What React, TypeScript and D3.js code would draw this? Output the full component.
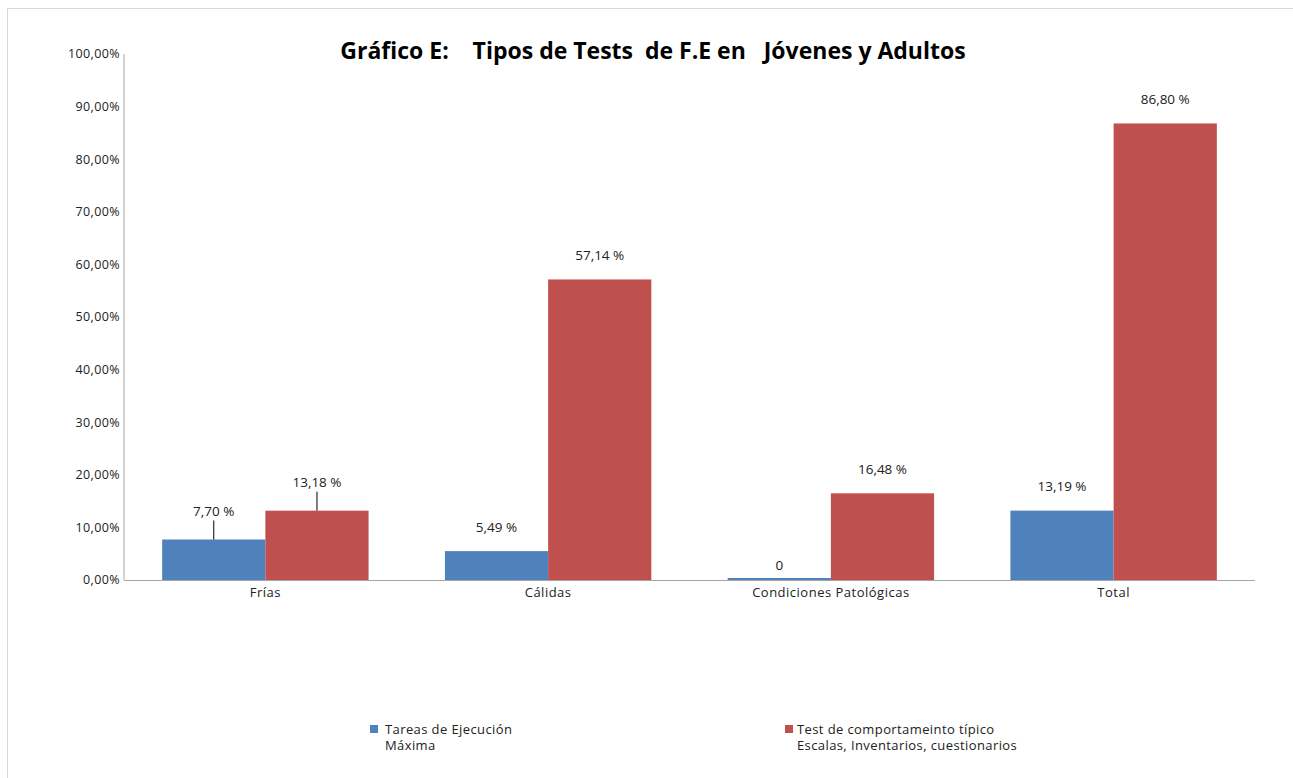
import React from "react";
import * as d3 from "d3";

const categories = ["Frías", "Cálidas", "Condiciones Patológicas", "Total"];
const maxima = [7.7, 5.49, 0, 13.19];
const tipico = [13.18, 57.14, 16.48, 86.8];
const maximaLabels = ["7,70 %", "5,49 %", "0", "13,19 %"];
const tipicoLabels = ["13,18 %", "57,14 %", "16,48 %", "86,80 %"];
const yTicks = [0, 10, 20, 30, 40, 50, 60, 70, 80, 90, 100];
// only the first group has leader lines in the original
const withLeader = [true, false, false, false];

const BLUE = "#4F81BD";
const RED = "#C0504D";
const FONT = "'Open Sans', 'Liberation Sans', sans-serif";

export default function App() {
  const width = 1293;
  const height = 778;
  const margin = { top: 54, right: 38, bottom: 198, left: 124 };

  const x = d3
    .scaleBand()
    .domain(categories)
    .range([margin.left, width - margin.right]);
  const y = d3
    .scaleLinear()
    .domain([0, 100])
    .range([height - margin.bottom, margin.top]);

  const barW = x.bandwidth() * 0.365;
  const fmt = (v: number) => d3.format(".2f")(v).replace(".", ",") + "%";

  const series = [
    { values: maxima, labels: maximaLabels, color: BLUE, offset: -1 },
    { values: tipico, labels: tipicoLabels, color: RED, offset: 0 },
  ];

  return (
    <svg
      width={width}
      height={height}
      style={{ position: "absolute", left: 0, top: 0, background: "#fff" }}
      fontFamily={FONT}
    >
      <rect x={7.5} y={8.5} width={width} height={height} fill="#fff" stroke="#d9d9d9" />

      <text
        x={653}
        y={59}
        textAnchor="middle"
        fontSize={23}
        fontWeight="bold"
        fill="#000"
        style={{ whiteSpace: "pre" }}
      >
        {"Gráfico E:    Tipos de Tests  de F.E en   Jóvenes y Adultos"}
      </text>

      {/* y axis */}
      <line x1={margin.left} x2={margin.left} y1={y(100)} y2={y(0)} stroke="#a6a6a6" />
      {yTicks.map((t) => (
        <text key={t} x={margin.left - 4} y={y(t)} dy="0.35em" textAnchor="end" fontSize={12.5} letterSpacing={0.4} fill="#222">
          {fmt(t)}
        </text>
      ))}

      {/* bars */}
      {series.map((s, si) =>
        categories.map((c, i) => {
          const cx = x(c)! + x.bandwidth() / 2;
          const bx = cx + s.offset * barW;
          const top = y(s.values[i]);
          const lead = withLeader[i];
          const labelY = top - (lead ? 28 : s.values[i] === 0 ? 15 : 24);
          return (
            <g key={si + "-" + c}>
              <rect
                x={bx}
                y={Math.min(top, y(0) - 2)}
                width={barW}
                height={Math.max(y(0) - top, 2)}
                fill={s.color}
              />
              {lead && (
                <line x1={bx + barW / 2} x2={bx + barW / 2} y1={top} y2={labelY + 9} stroke="#000" />
              )}
              <text x={bx + barW / 2} y={labelY} dy="0.35em" textAnchor="middle" fontSize={13.5} fill="#222">
                {s.labels[i]}
              </text>
            </g>
          );
        })
      )}

      {/* x axis */}
      <line x1={margin.left} x2={width - margin.right} y1={y(0) + 0.5} y2={y(0) + 0.5} stroke="#a6a6a6" />
      {categories.map((c) => (
        <text key={c} x={x(c)! + x.bandwidth() / 2} y={y(0) + 12} dy="0.35em" textAnchor="middle" fontSize={13} letterSpacing={0.5} fill="#222">
          {c}
        </text>
      ))}

      {/* legend */}
      <rect x={370} y={725} width={8} height={8} fill={BLUE} />
      <text x={385} y={729} dy="0.35em" fontSize={13} letterSpacing={0.4} fill="#222">Tareas de Ejecución</text>
      <text x={385} y={745} dy="0.35em" fontSize={13} letterSpacing={0.4} fill="#222">Máxima</text>
      <rect x={785} y={725} width={8} height={8} fill={RED} />
      <text x={797} y={729} dy="0.35em" fontSize={13} letterSpacing={0.4} fill="#222">Test de comportameinto típico</text>
      <text x={797} y={745} dy="0.35em" fontSize={13} letterSpacing={0.4} fill="#222">Escalas, Inventarios, cuestionarios</text>
    </svg>
  );
}
